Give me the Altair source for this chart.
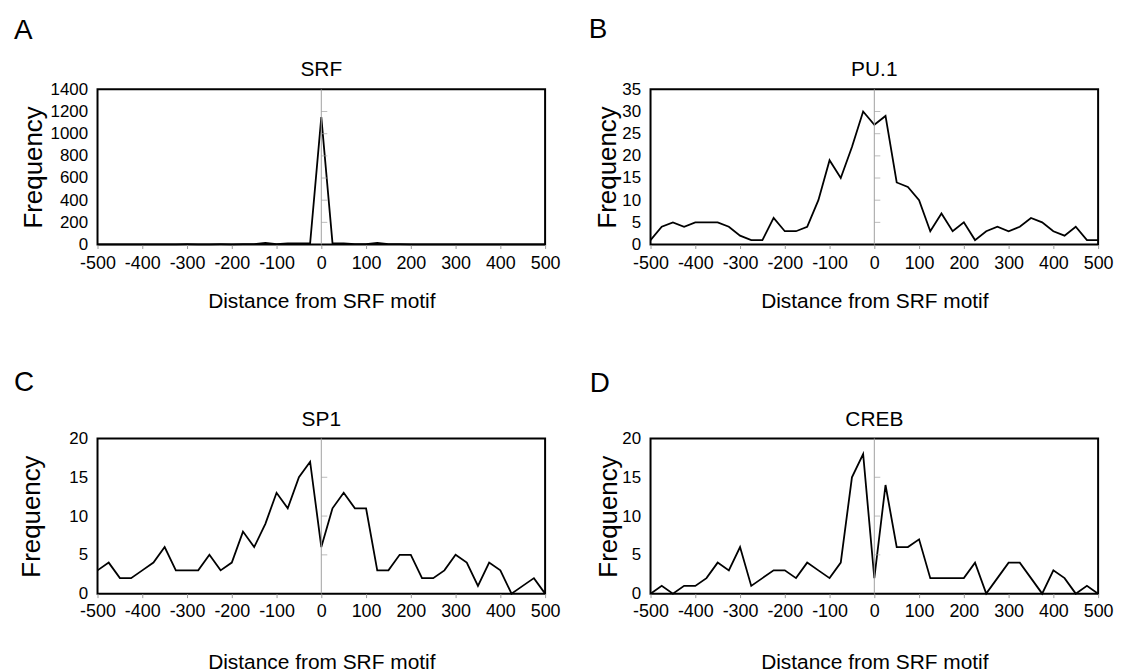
import altair as alt
import pandas as pd

FONT = "Liberation Sans"

distance = [-500, -475, -450, -425, -400, -375, -350, -325, -300, -275, -250,
            -225, -200, -175, -150, -125, -100, -75, -50, -25, 0,
            25, 50, 75, 100, 125, 150, 175, 200, 225, 250,
            275, 300, 325, 350, 375, 400, 425, 450, 475, 500]

srf = [2, 1, 2, 1, 2, 2, 1, 2, 3, 2, 2, 3, 2, 3, 4,
       15, 4, 10, 10, 10, 1150, 12, 10, 4, 4, 14, 4,
       3, 2, 2, 2, 2, 2, 2, 2, 2, 2, 2, 2, 2, 2]
pu1 = [1, 4, 5, 4, 5, 5, 5, 4, 2, 1, 1, 6, 3, 3, 4, 10, 19, 15, 22, 30,
       27, 29, 14, 13, 10, 3, 7, 3, 5, 1, 3, 4, 3, 4, 6, 5, 3, 2, 4, 1, 1]
sp1 = [3, 4, 2, 2, 3, 4, 6, 3, 3, 3, 5, 3, 4, 8, 6, 9, 13, 11, 15, 17,
       6, 11, 13, 11, 11, 3, 3, 5, 5, 2, 2, 3, 5, 4, 1, 4, 3, 0, 1, 2, 0]
creb = [0, 1, 0, 1, 1, 2, 4, 3, 6, 1, 2, 3, 3, 2, 4, 3, 2, 4, 15, 18,
        2, 14, 6, 6, 7, 2, 2, 2, 2, 4, 0, 2, 4, 4, 2, 0, 3, 2, 0, 1, 0]

x_ticks = [-500, -400, -300, -200, -100, 0, 100, 200, 300, 400, 500]
srf_ticks = [0, 200, 400, 600, 800, 1000, 1200, 1400]
pu1_ticks = [0, 5, 10, 15, 20, 25, 30, 35]
small_ticks = [0, 5, 10, 15, 20]

titles = ["SRF", "PU.1", "SP1", "CREB"]
letters = ["A", "B", "C", "D"]
x_title = "Distance from SRF motif"
y_title = "Frequency"

W, H = 450, 156


def panel(values, title, letter, yticks, lx, ly, ytitle_pad, xlab_pad, xtitle_pad):
    df = pd.DataFrame({"distance": distance, "frequency": values})
    xs = alt.Scale(domain=[-500, 500], nice=False, zero=False)
    ys = alt.Scale(domain=[yticks[0], yticks[-1]], nice=False)
    x = alt.X("distance:Q", scale=xs, axis=alt.Axis(
        values=x_ticks, title=x_title, grid=False, domain=False,
        tickColor="#9a9a9a", tickSize=4, tickWidth=1,
        labelExpr="'' + datum.value",
        labelFontSize=18, labelColor="black", labelPadding=xlab_pad,
        labelFlush=False, labelOverlap=False,
        titleFontSize=21, titleFontWeight="normal", titleColor="black",
        titlePadding=xtitle_pad))
    y = alt.Y("frequency:Q", scale=ys, axis=alt.Axis(
        values=yticks, title=y_title, grid=False, domain=False, ticks=False,
        labelExpr="'' + datum.value",
        labelFontSize=17, labelColor="black", labelPadding=10,
        labelFlush=False, labelOverlap=False,
        titleFontSize=26, titleFontWeight="normal", titleColor="black",
        titlePadding=ytitle_pad))
    line = alt.Chart(df).mark_line(color="black", strokeWidth=1.8).encode(x=x, y=y)
    zero = alt.Chart(pd.DataFrame({"distance": [0]})).mark_rule(
        color="#a0a0a0", strokeWidth=1).encode(x=x)
    tdf = pd.DataFrame({"distance": [0] * (len(yticks) - 2), "frequency": yticks[1:-1]})
    ticks = alt.Chart(tdf).mark_tick(
        orient="horizontal", size=6, xOffset=3, thickness=1, color="#a0a0a0").encode(
        x=x, y=y)
    lab = alt.Chart(pd.DataFrame({"label": [letter]})).mark_text(
        align="left", baseline="alphabetic", fontSize=28, color="black", font=FONT).encode(
        text="label:N", x=alt.value(lx), y=alt.value(ly))
    ttl = alt.Chart(pd.DataFrame({"label": [title]})).mark_text(
        align="center", baseline="alphabetic", fontSize=21, color="black", font=FONT).encode(
        text="label:N", x=alt.value(W / 2), y=alt.value(-13))
    return alt.layer(line, zero, ticks, lab, ttl).properties(width=W, height=H)


pa = panel(srf, titles[0], letters[0], srf_ticks, -84, -51, 3, 6, 18)
pb = panel(pu1, titles[1], letters[1], pu1_ticks, -62, -52, 1, 6, 18)
pc = panel(sp1, titles[2], letters[2], small_ticks, -84, -48, 24, 5, 31)
pd_ = panel(creb, titles[3], letters[3], small_ticks, -61, -47, 0, 5, 31)

chart = alt.concat(pa, pb, pc, pd_, columns=2,
                   spacing={"row": 195, "column": 106},
                   bounds="flush").properties(
    padding={"left": 5, "top": 5, "right": 5, "bottom": 0}
).configure(font=FONT, background="white").configure_view(
    stroke="black", strokeWidth=2)

chart.save("out.html", embed_options={"renderer": "svg", "actions": False})
